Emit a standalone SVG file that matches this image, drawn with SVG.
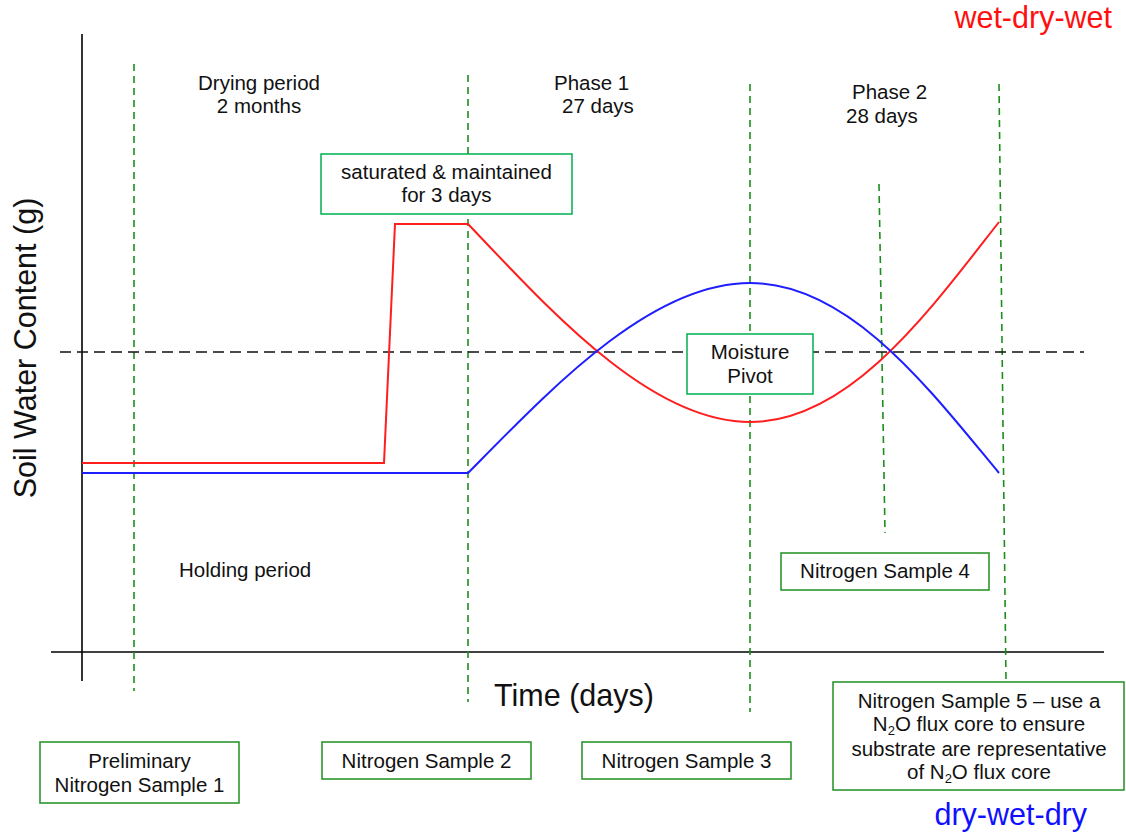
<svg xmlns="http://www.w3.org/2000/svg" width="1126" height="833" viewBox="0 0 1126 833">
<style>
text{font-family:"Liberation Sans",Arial,sans-serif;fill:#111;}
.t{font-size:20.5px;}
.c{text-anchor:middle;}
.big{font-size:30.5px;}
.box1{fill:#fff;stroke:#00B050;stroke-width:1.5;}
.box2{fill:#fff;stroke:#2E962E;stroke-width:1.6;}
.gd{stroke:#1E8C1E;stroke-width:1.6;stroke-dasharray:7 5;fill:none;}
.bd{stroke:#111;stroke-width:1.5;stroke-dasharray:11 6;fill:none;}
.ax{stroke:#000;stroke-width:1.6;fill:none;}
.red{stroke:#FF1E1E;stroke-width:2;fill:none;}
.blue{stroke:#1E1EFF;stroke-width:2;fill:none;}
.sub{font-size:13px;}
</style>
<rect width="1126" height="833" fill="#fff"/>
<g id="axes">
<line class="ax" x1="82" y1="34" x2="82" y2="681"/>
<line class="ax" x1="51" y1="652" x2="1104" y2="652"/>
</g>
<g id="connectors">
<line class="gd" x1="134" y1="64" x2="134" y2="691"/>
<line class="gd" x1="468" y1="75" x2="468" y2="702"/>
<line class="gd" x1="750" y1="84" x2="750" y2="712"/>
<line class="gd" x1="879" y1="184" x2="885" y2="533"/>
<line class="gd" x1="999" y1="84" x2="1006" y2="682"/>
<line class="bd" x1="60" y1="352" x2="1084" y2="352"/>
<path id="wet-dry-wet-curve" class="red" d="M82,463 L384,463 L395,224 L468,224 C550,310 650,422 750,422 C850,422 930,310 999,222"/>
<path id="dry-wet-dry-curve" class="blue" d="M82,473 L468,473 C550,390 650,283 750,283 C850,283 930,390 999,473"/>
</g>
<g id="labels">
<text class="t c" x="259" y="90">Drying period</text>
<text class="t c" x="259" y="113">2 months</text>
<text class="t" x="554" y="90">Phase 1</text>
<text class="t" x="562" y="113">27 days</text>
<text class="t" x="852" y="99">Phase 2</text>
<text class="t" x="846" y="123">28 days</text>
<text class="t" x="179" y="577">Holding period</text>
<text class="big" x="1112" y="28" style="fill:#FF1010;text-anchor:end">wet-dry-wet</text>
<text class="big" x="1087" y="825" style="fill:#1010FF;text-anchor:end">dry-wet-dry</text>
<text class="big c" x="574" y="706">Time (days)</text>
<text class="big c" transform="translate(36,348) rotate(-90)" x="0" y="0">Soil Water Content (g)</text>
</g>
<g id="saturated">
<rect class="box1" x="321" y="154" width="251" height="60"/>
<text class="t c" x="446.5" y="179">saturated &amp; maintained</text>
<text class="t c" x="446.5" y="202">for 3 days</text>
</g>
<g id="moisture-pivot">
<rect class="box1" x="687" y="334" width="126" height="60"/>
<text class="t c" x="750" y="359">Moisture</text>
<text class="t c" x="750" y="383">Pivot</text>
</g>
<g id="sample1">
<rect class="box2" x="40" y="742" width="199" height="61"/>
<text class="t c" x="139.5" y="768">Preliminary</text>
<text class="t c" x="139.5" y="792">Nitrogen Sample 1</text>
</g>
<g id="sample2">
<rect class="box2" x="322" y="742" width="209" height="37"/>
<text class="t c" x="426.5" y="768">Nitrogen Sample 2</text>
</g>
<g id="sample3">
<rect class="box2" x="582" y="742" width="209" height="37"/>
<text class="t c" x="686.5" y="768">Nitrogen Sample 3</text>
</g>
<g id="sample4">
<rect class="box2" x="781" y="553" width="208" height="37"/>
<text class="t c" x="885" y="578">Nitrogen Sample 4</text>
</g>
<g id="sample5">
<rect class="box2" x="833" y="682" width="291" height="108"/>
<text class="t c" x="979" y="708">Nitrogen Sample 5 – use a</text>
<text class="t c" x="979" y="731">N<tspan class="sub" dy="4">2</tspan><tspan dy="-4">O flux core to ensure</tspan></text>
<text class="t c" x="979" y="756">substrate are representative</text>
<text class="t c" x="979" y="779">of N<tspan class="sub" dy="4">2</tspan><tspan dy="-4">O flux core</tspan></text>
</g>
</svg>
